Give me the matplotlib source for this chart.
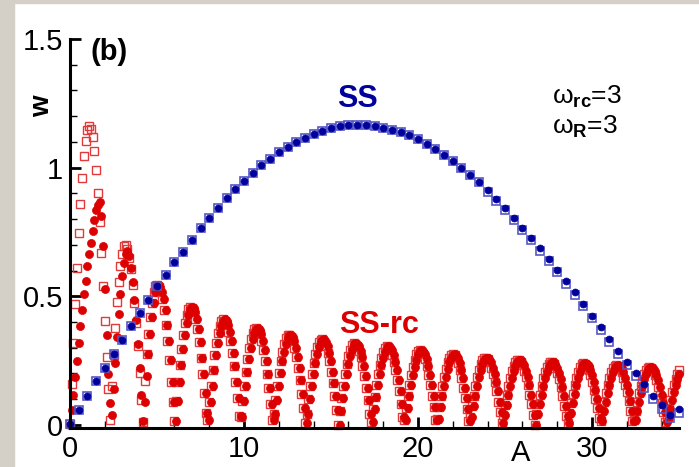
import numpy as np
import matplotlib.pyplot as plt
from matplotlib.patches import Rectangle

plt.rcParams['font.family'] = 'Liberation Sans'
plt.rcParams['mathtext.fontset'] = 'custom'
plt.rcParams['mathtext.rm'] = 'Liberation Sans'
plt.rcParams['mathtext.it'] = 'Liberation Sans:italic'
plt.rcParams['mathtext.bf'] = 'Liberation Sans:bold'

# SS curve (blue), A = 0 ... 35 in steps of 0.5
ss_A_step = 0.5
ss_w = [0.003, 0.058, 0.113, 0.169, 0.223, 0.277, 0.331, 0.384, 0.435, 0.485,
        0.538, 0.584, 0.632, 0.674, 0.720, 0.764, 0.805, 0.843, 0.881, 0.916,
        0.948, 0.981, 1.009, 1.035, 1.060, 1.080, 1.100, 1.117, 1.132, 1.144,
        1.153, 1.161, 1.165, 1.167, 1.166, 1.162, 1.156, 1.148, 1.137, 1.126,
        1.110, 1.092, 1.071, 1.049, 1.026, 1.000, 0.973, 0.943, 0.912, 0.877,
        0.842, 0.805, 0.767, 0.726, 0.686, 0.645, 0.603, 0.559, 0.515, 0.471,
        0.425, 0.379, 0.334, 0.289, 0.244, 0.201, 0.158, 0.114, 0.077, 0.040,
        0.063]
ss_w_sq = [0.003, 0.058, 0.113, 0.169, 0.223, 0.277, 0.331, 0.384, 0.435, 0.485,
           0.538, 0.584, 0.632, 0.674, 0.720, 0.764, 0.805, 0.843, 0.881, 0.916,
           0.948, 0.981, 1.009, 1.035, 1.060, 1.080, 1.100, 1.117, 1.132, 1.144,
           1.153, 1.161, 1.165, 1.167, 1.166, 1.162, 1.156, 1.148, 1.137, 1.126,
           1.110, 1.092, 1.071, 1.049, 1.026, 1.000, 0.973, 0.943, 0.907, 0.871,
           0.835, 0.797, 0.759, 0.718, 0.677, 0.636, 0.594, 0.549, 0.505, 0.461,
           0.414, 0.368, 0.322, 0.277, 0.232, 0.189, 0.145, 0.100, 0.062, 0.028,
           0.048]

# SS-rc curve (red), A = 0 ... 35 in steps of 0.1, one row per arch
rc_A_step = 0.1
rc_w = [
    0.000, 0.058, 0.117, 0.186, 0.250, 0.318, 0.385, 0.447, 0.510, 0.561, 0.616, 0.665,
    0.709, 0.752, 0.795, 0.834, 0.855, 0.865, 0.813, 0.694, 0.528, 0.350, 0.197, 0.087,
    0.040, 0.140, 0.240, 0.340, 0.430, 0.510, 0.580, 0.630, 0.665, 0.675, 0.655, 0.610, 0.554, 0.486, 0.409, 0.315, 0.220, 0.117, 0.017,
    0.090, 0.190, 0.275, 0.354, 0.419, 0.475, 0.515, 0.538, 0.545, 0.535, 0.515, 0.490, 0.447, 0.389, 0.327, 0.253, 0.168, 0.091,
    0.015, 0.092, 0.165, 0.234, 0.297, 0.351, 0.396, 0.429, 0.451, 0.460, 0.456, 0.440, 0.411, 0.371, 0.321, 0.262, 0.196, 0.123, 0.048,
    0.021, 0.088, 0.153, 0.214, 0.270, 0.317, 0.356, 0.385, 0.403, 0.410, 0.405, 0.390, 0.363, 0.327, 0.281, 0.228, 0.168, 0.103, 0.036,
    0.031, 0.093, 0.152, 0.207, 0.256, 0.298, 0.332, 0.356, 0.371, 0.375, 0.369, 0.353, 0.326, 0.291, 0.248, 0.198, 0.142, 0.083, 0.021,
    0.041, 0.098, 0.152, 0.203, 0.247, 0.285, 0.315, 0.336, 0.348, 0.350, 0.342, 0.325, 0.299, 0.264, 0.223, 0.175, 0.122, 0.065, 0.007,
    0.044, 0.099, 0.150, 0.197, 0.239, 0.274, 0.302, 0.321, 0.331, 0.332, 0.324, 0.307, 0.281, 0.248, 0.207, 0.161, 0.111, 0.057,
    0.000, 0.053, 0.104, 0.153, 0.197, 0.236, 0.268, 0.293, 0.309, 0.317, 0.316, 0.307, 0.289, 0.263, 0.230, 0.190, 0.145, 0.095, 0.044,
    0.010, 0.061, 0.109, 0.155, 0.197, 0.233, 0.262, 0.284, 0.299, 0.305, 0.302, 0.292, 0.273, 0.246, 0.213, 0.174, 0.130, 0.082, 0.032,
    0.019, 0.067, 0.113, 0.156, 0.194, 0.227, 0.254, 0.274, 0.286, 0.290, 0.286, 0.274, 0.255, 0.228, 0.195, 0.157, 0.114, 0.068, 0.021,
    0.023, 0.068, 0.111, 0.152, 0.188, 0.218, 0.243, 0.261, 0.272, 0.275, 0.271, 0.259, 0.239, 0.214, 0.182, 0.145, 0.104, 0.061, 0.015,
    0.031, 0.073, 0.114, 0.152, 0.185, 0.213, 0.236, 0.251, 0.260, 0.262, 0.256, 0.243, 0.223, 0.198, 0.167, 0.131, 0.091, 0.049, 0.006,
    0.038, 0.079, 0.117, 0.153, 0.184, 0.210, 0.230, 0.244, 0.251, 0.251, 0.244, 0.231, 0.211, 0.185, 0.154, 0.118, 0.080, 0.039,
    0.000, 0.041, 0.080, 0.118, 0.152, 0.182, 0.206, 0.225, 0.238, 0.245, 0.244, 0.236, 0.222, 0.202, 0.177, 0.146, 0.111, 0.074, 0.034,
    0.008, 0.048, 0.086, 0.122, 0.155, 0.183, 0.206, 0.224, 0.235, 0.240, 0.238, 0.229, 0.215, 0.194, 0.168, 0.137, 0.102, 0.064, 0.025,
    0.016, 0.054, 0.091, 0.125, 0.156, 0.183, 0.204, 0.220, 0.230, 0.233, 0.230, 0.220, 0.205, 0.183, 0.157, 0.126, 0.092, 0.055, 0.017,
    0.019, 0.056, 0.091, 0.123, 0.153, 0.178, 0.198, 0.213, 0.221, 0.224, 0.220, 0.211, 0.195, 0.174, 0.148, 0.118, 0.085, 0.049, 0.012,
    0.026, 0.062, 0.096, 0.127, 0.155, 0.179, 0.198,
]
# hollow squares of SS-rc: they run a little ahead of the dots
rc_w_sq = [
    0.005, 0.160, 0.320, 0.470, 0.610, 0.745, 0.860, 0.960, 1.045, 1.105, 1.145, 1.163,
    1.150, 1.120, 1.065, 0.990, 0.900, 0.790, 0.670, 0.540, 0.405, 0.265, 0.140, 0.020,
    0.150, 0.270, 0.376, 0.476, 0.554, 0.619, 0.665, 0.695, 0.700, 0.685, 0.650, 0.605, 0.545, 0.473, 0.396, 0.305, 0.201, 0.097, 0.013,
    0.170, 0.275, 0.354, 0.419, 0.475, 0.515, 0.538, 0.545, 0.535, 0.515, 0.490, 0.447, 0.389, 0.327, 0.253, 0.168, 0.091, 0.015,
    0.092, 0.165, 0.234, 0.297, 0.351, 0.396, 0.429, 0.451, 0.460, 0.456, 0.440, 0.411, 0.371, 0.321, 0.262, 0.196, 0.123, 0.048, 0.021,
    0.088, 0.153, 0.214, 0.270, 0.317, 0.356, 0.385, 0.403, 0.410, 0.405, 0.390, 0.363, 0.327, 0.281, 0.228, 0.168, 0.103, 0.036, 0.031,
    0.093, 0.152, 0.207, 0.256, 0.298, 0.332, 0.356, 0.371, 0.375, 0.369, 0.353, 0.326, 0.291, 0.248, 0.198, 0.142, 0.083, 0.021, 0.041,
    0.098, 0.152, 0.203, 0.247, 0.285, 0.315, 0.336, 0.348, 0.350, 0.342, 0.325, 0.299, 0.264, 0.223, 0.175, 0.122, 0.065, 0.007, 0.044,
    0.099, 0.150, 0.197, 0.239, 0.274, 0.302, 0.321, 0.331, 0.332, 0.324, 0.307, 0.281, 0.248, 0.207, 0.161, 0.111, 0.057, 0.000,
    0.053, 0.104, 0.153, 0.197, 0.236, 0.268, 0.293, 0.309, 0.317, 0.316, 0.307, 0.289, 0.263, 0.230, 0.190, 0.145, 0.095, 0.044, 0.010,
    0.061, 0.109, 0.155, 0.197, 0.233, 0.262, 0.284, 0.299, 0.305, 0.302, 0.292, 0.273, 0.246, 0.213, 0.174, 0.130, 0.082, 0.032, 0.019,
    0.067, 0.113, 0.156, 0.194, 0.227, 0.254, 0.274, 0.286, 0.290, 0.286, 0.274, 0.255, 0.228, 0.195, 0.157, 0.114, 0.068, 0.021, 0.023,
    0.068, 0.111, 0.152, 0.188, 0.218, 0.243, 0.261, 0.272, 0.275, 0.271, 0.259, 0.239, 0.214, 0.182, 0.145, 0.104, 0.061, 0.015, 0.031,
    0.073, 0.114, 0.152, 0.185, 0.213, 0.236, 0.251, 0.260, 0.262, 0.256, 0.243, 0.223, 0.198, 0.167, 0.131, 0.091, 0.049, 0.006, 0.038,
    0.079, 0.117, 0.153, 0.184, 0.210, 0.230, 0.244, 0.251, 0.251, 0.244, 0.231, 0.211, 0.185, 0.154, 0.118, 0.080, 0.039, 0.000,
    0.041, 0.080, 0.118, 0.152, 0.182, 0.206, 0.225, 0.238, 0.245, 0.244, 0.236, 0.222, 0.202, 0.177, 0.146, 0.111, 0.074, 0.034, 0.008,
    0.048, 0.086, 0.122, 0.155, 0.183, 0.206, 0.224, 0.235, 0.240, 0.238, 0.229, 0.215, 0.194, 0.168, 0.137, 0.102, 0.064, 0.025, 0.016,
    0.054, 0.091, 0.125, 0.156, 0.183, 0.204, 0.220, 0.230, 0.233, 0.230, 0.220, 0.205, 0.183, 0.157, 0.126, 0.092, 0.055, 0.017, 0.019,
    0.056, 0.091, 0.123, 0.153, 0.178, 0.198, 0.213, 0.221, 0.224, 0.220, 0.211, 0.195, 0.174, 0.148, 0.118, 0.085, 0.049, 0.012, 0.026,
    0.062, 0.096, 0.127, 0.155, 0.179, 0.198, 0.212,
]

ss_A = np.arange(len(ss_w)) * ss_A_step
rc_A = np.arange(len(rc_w)) * rc_A_step

red = '#dd0000'
red_sq = '#e23a3a'
blue = '#00009c'
blue_sq = '#5656c6'

fig = plt.figure(figsize=(6.99, 4.67), dpi=100)
fig.patch.set_facecolor('white')
# grey window frame on the left and top
fig.patches.append(Rectangle((0, 0), 14/699, 1, transform=fig.transFigure,
                             color='#d4d0c8', zorder=0))
fig.patches.append(Rectangle((0, 1 - 3/467), 1, 3/467, transform=fig.transFigure,
                             color='#d4d0c8', zorder=0))

ax = fig.add_axes([70/699, 1 - 428/467, 609/699, 389/467])
ax.patch.set_alpha(0)

ax.plot(rc_A, rc_w_sq, ls='none', marker='s', ms=6.3, mfc='none', mec=red_sq,
        mew=1.0, clip_on=False)
ax.plot(rc_A, rc_w, ls='none', marker='o', ms=5.8, mfc=red, mec=red, mew=0.5,
        clip_on=False)
ax.plot(ss_A, ss_w_sq, ls='none', marker='s', ms=6.3, mfc='none', mec=blue_sq,
        mew=1.2, clip_on=False)
ax.plot(ss_A, ss_w, ls='none', marker='o', ms=5.0, mfc=blue, mec=blue, mew=0.5,
        clip_on=False)

ax.set_xlim(0, 35)
ax.set_ylim(-0.012, 1.5)
ax.set_xticks([0, 10, 20, 30])
ax.set_xticklabels(['0', '10', '20', '30'])
ax.set_xticks(np.arange(0, 35, 2), minor=True)
ax.set_yticks([0, 0.5, 1, 1.5])
ax.set_yticklabels(['0', '0.5', '1', '1.5'])
ax.set_yticks(np.arange(0, 1.5, 0.1), minor=True)

for side in ['top', 'right']:
    ax.spines[side].set_visible(False)
for side in ['left', 'bottom']:
    ax.spines[side].set_linewidth(2.2)

ax.tick_params(which='major', direction='in', length=8, width=2, labelsize=21, pad=5)
ax.tick_params(which='minor', direction='in', length=5, width=1)

# labels
fig.text(42/699, 1 - 106/467, 'w', rotation=90, ha='center', va='center',
         fontsize=20, fontweight='bold')
fig.text(521/699, 1 - 453/467, 'A', ha='center', va='center', fontsize=21)
fig.text(90/699, 1 - 52/467, '(b)', ha='left', va='center', fontsize=21,
         fontweight='bold')
fig.text(357/699, 1 - 99/467, 'SS', ha='center', va='center', fontsize=22,
         fontweight='bold', color=blue)
fig.text(379/699, 1 - 325/467, 'SS-rc', ha='center', va='center', fontsize=22,
         fontweight='bold', color=red)
fig.text(552/699, 1 - 97/467, r'$\mathrm{\omega}_{\mathbf{rc}}$=3', ha='left',
         va='center', fontsize=19)
fig.text(552/699, 1 - 127/467, r'$\mathrm{\omega}_{\mathbf{R}}$=3', ha='left',
         va='center', fontsize=19)

fig.savefig('out.png', dpi=100)
